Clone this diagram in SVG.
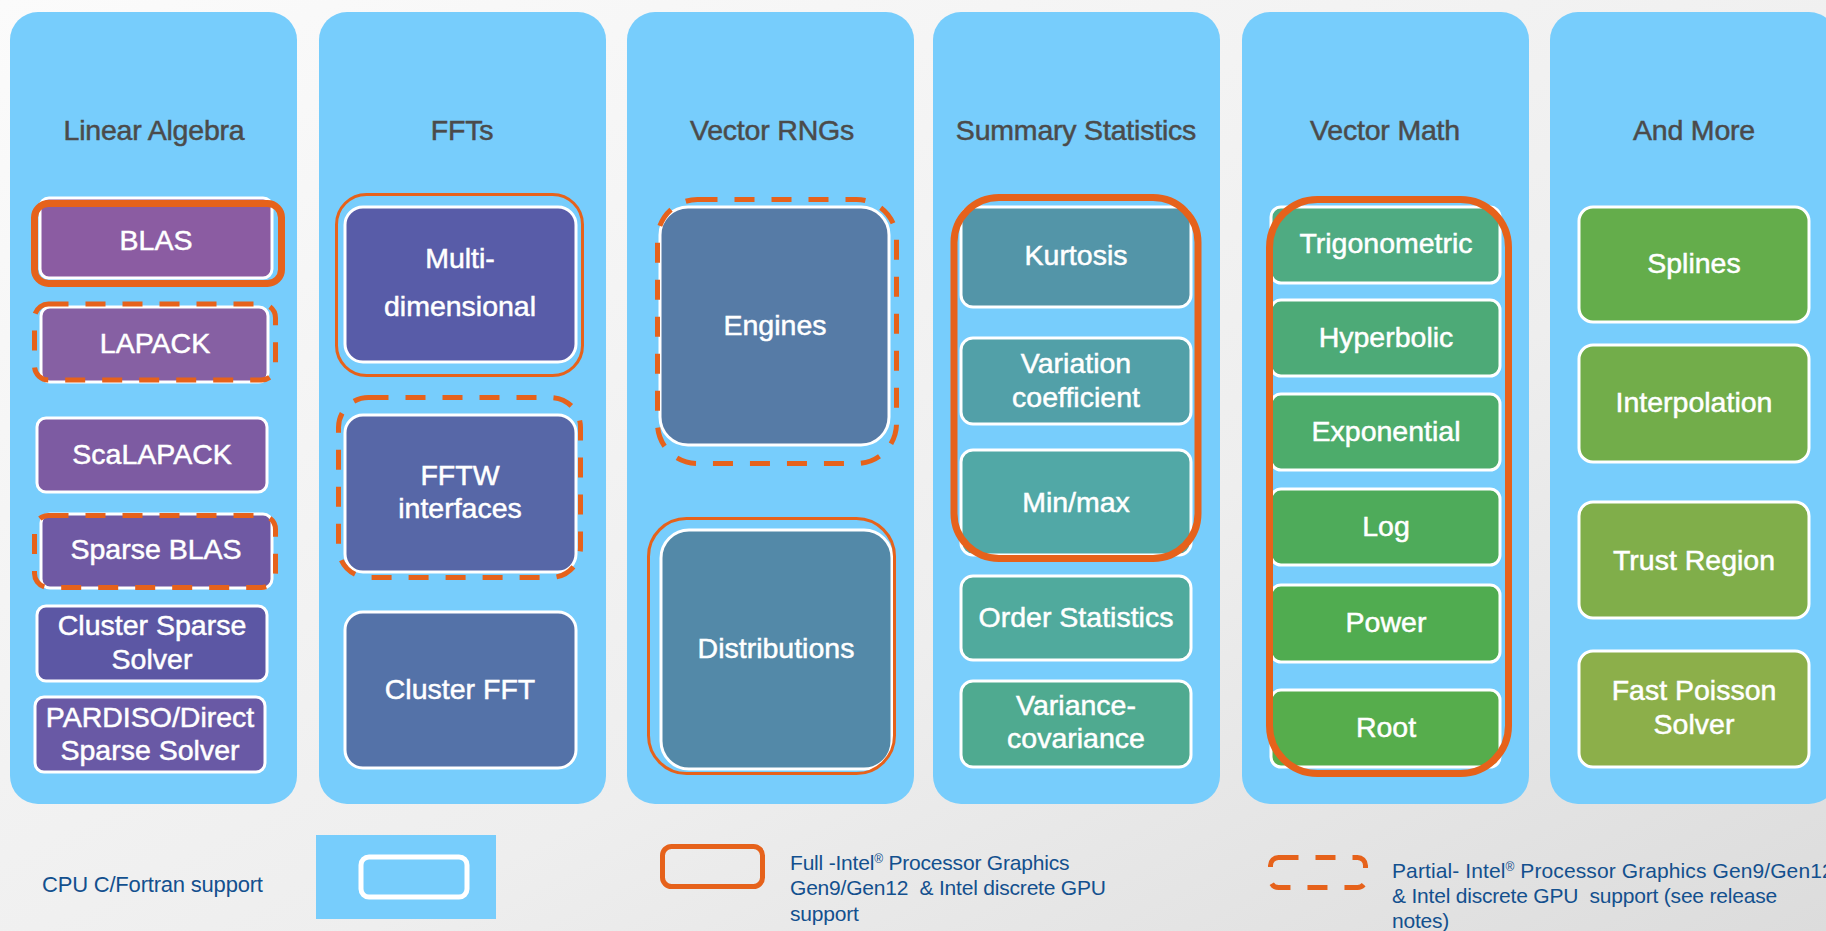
<svg xmlns="http://www.w3.org/2000/svg" width="1826" height="931" viewBox="0 0 1826 931">
  <defs>
    <linearGradient id="bg" x1="0" y1="0" x2="1" y2="1">
      <stop offset="0" stop-color="#fbfbfb"/>
      <stop offset="0.6" stop-color="#eeeeee"/>
      <stop offset="1" stop-color="#dcdcdc"/>
    </linearGradient>
  </defs>
  <style>
    .col { fill: #77cdfc; }
    .title { fill: #4b4b4b; stroke: #4b4b4b; stroke-width: 0.5px; font-family: "Liberation Sans", Arial, sans-serif; font-size: 28.5px; text-anchor: middle; letter-spacing: -0.2px; }
    .node rect { stroke: #ffffff; stroke-width: 3; }
    .node text { fill: #ffffff; stroke: #ffffff; stroke-width: 0.5px; font-family: "Liberation Sans", Arial, sans-serif; font-size: 28.5px; text-anchor: middle; letter-spacing: 0; }
    .full { fill: none; stroke: #e6621b; }
    .partial { fill: none; stroke: #e6621b; stroke-width: 5; stroke-dasharray: 20 17; }
    .legend { fill: #13508e; font-family: "Liberation Sans", Arial, sans-serif; font-size: 21px; white-space: pre; letter-spacing: -0.2px; }
    .sup { font-size: 12px; }
  </style>

  <!-- page background -->
  <rect width="1826" height="931" fill="url(#bg)"/>

  <!-- category columns -->
  <g id="columns">
    <g id="col-linear-algebra">
      <rect class="col" x="10" y="12" width="287" height="792" rx="28"/>
      <text class="title" x="154" y="140">Linear Algebra</text>
    </g>
    <g id="col-ffts">
      <rect class="col" x="319" y="12" width="287" height="792" rx="28"/>
      <text class="title" x="462" y="140">FFTs</text>
    </g>
    <g id="col-vector-rngs">
      <rect class="col" x="627" y="12" width="287" height="792" rx="28"/>
      <text class="title" x="772" y="140">Vector RNGs</text>
    </g>
    <g id="col-summary-statistics">
      <rect class="col" x="933" y="12" width="287" height="792" rx="28"/>
      <text class="title" x="1076" y="140">Summary Statistics</text>
    </g>
    <g id="col-vector-math">
      <rect class="col" x="1242" y="12" width="287" height="792" rx="28"/>
      <text class="title" x="1385" y="140">Vector Math</text>
    </g>
    <g id="col-and-more">
      <rect class="col" x="1550" y="12" width="287" height="792" rx="28"/>
      <text class="title" x="1694" y="140">And More</text>
    </g>
  </g>

  <!-- Linear Algebra -->
  <g id="blas" class="node">
    <rect x="40" y="198" width="232" height="80" rx="9" fill="#8b5ca2"/>
    <text x="156" y="250">BLAS</text>
  </g>
  <g id="lapack" class="node">
    <rect x="41" y="307" width="227" height="75" rx="9" fill="#8660a3"/>
    <text x="155" y="353">LAPACK</text>
  </g>
  <g id="scalapack" class="node">
    <rect x="37" y="418" width="230" height="74" rx="9" fill="#7d5ba2"/>
    <text x="152" y="464">ScaLAPACK</text>
  </g>
  <g id="sparse-blas" class="node">
    <rect x="41" y="514" width="231" height="74" rx="9" fill="#6f59a3"/>
    <text x="156" y="559">Sparse BLAS</text>
  </g>
  <g id="cluster-sparse-solver" class="node">
    <rect x="37" y="606" width="230" height="75" rx="9" fill="#5c57a4"/>
    <text x="152" y="635">Cluster Sparse</text>
    <text x="152" y="669">Solver</text>
  </g>
  <g id="pardiso" class="node">
    <rect x="35" y="697" width="230" height="75" rx="9" fill="#6959a5"/>
    <text x="150" y="727">PARDISO/Direct</text>
    <text x="150" y="760">Sparse Solver</text>
  </g>

  <!-- FFTs -->
  <g id="multi-dimensional" class="node">
    <rect x="345" y="207" width="231" height="155" rx="18" fill="#585ca8"/>
    <text x="460" y="268">Multi-</text>
    <text x="460" y="316">dimensional</text>
  </g>
  <g id="fftw-interfaces" class="node">
    <rect x="345" y="415" width="231" height="157" rx="18" fill="#5767a7"/>
    <text x="460" y="485">FFTW</text>
    <text x="460" y="518">interfaces</text>
  </g>
  <g id="cluster-fft" class="node">
    <rect x="345" y="612" width="231" height="156" rx="18" fill="#5472a8"/>
    <text x="460" y="699">Cluster FFT</text>
  </g>

  <!-- Vector RNGs -->
  <g id="engines" class="node">
    <rect x="660" y="207" width="229" height="238" rx="28" fill="#567ba6"/>
    <text x="775" y="335">Engines</text>
  </g>
  <g id="distributions" class="node">
    <rect x="661" y="530" width="231" height="239" rx="28" fill="#5389a8"/>
    <text x="776" y="658">Distributions</text>
  </g>

  <!-- Summary Statistics -->
  <g id="kurtosis" class="node">
    <rect x="961" y="207" width="230" height="100" rx="12" fill="#5395a8"/>
    <text x="1076" y="265">Kurtosis</text>
  </g>
  <g id="variation-coefficient" class="node">
    <rect x="961" y="338" width="230" height="86" rx="12" fill="#52a0a8"/>
    <text x="1076" y="373">Variation</text>
    <text x="1076" y="407">coefficient</text>
  </g>
  <g id="min-max" class="node">
    <rect x="961" y="450" width="230" height="105" rx="12" fill="#51a8a6"/>
    <text x="1076" y="512">Min/max</text>
  </g>
  <g id="order-statistics" class="node">
    <rect x="961" y="576" width="230" height="84" rx="12" fill="#50aa9d"/>
    <text x="1076" y="627">Order Statistics</text>
  </g>
  <g id="variance-covariance" class="node">
    <rect x="961" y="681" width="230" height="86" rx="12" fill="#4faa90"/>
    <text x="1076" y="715">Variance-</text>
    <text x="1076" y="748">covariance</text>
  </g>

  <!-- Vector Math -->
  <g id="trigonometric" class="node">
    <rect x="1271" y="207" width="229" height="76" rx="10" fill="#4fab82"/>
    <text x="1386" y="253">Trigonometric</text>
  </g>
  <g id="hyperbolic" class="node">
    <rect x="1271" y="300" width="229" height="76" rx="10" fill="#4daa77"/>
    <text x="1386" y="347">Hyperbolic</text>
  </g>
  <g id="exponential" class="node">
    <rect x="1271" y="394" width="229" height="76" rx="10" fill="#4dac6b"/>
    <text x="1386" y="441">Exponential</text>
  </g>
  <g id="log" class="node">
    <rect x="1271" y="489" width="229" height="76" rx="10" fill="#4eab5a"/>
    <text x="1386" y="536">Log</text>
  </g>
  <g id="power" class="node">
    <rect x="1271" y="585" width="229" height="77" rx="10" fill="#50ac50"/>
    <text x="1386" y="632">Power</text>
  </g>
  <g id="root" class="node">
    <rect x="1271" y="690" width="229" height="77" rx="10" fill="#56ad4c"/>
    <text x="1386" y="737">Root</text>
  </g>

  <!-- And More -->
  <g id="splines" class="node">
    <rect x="1579" y="207" width="230" height="115" rx="14" fill="#64ad4b"/>
    <text x="1694" y="273">Splines</text>
  </g>
  <g id="interpolation" class="node">
    <rect x="1579" y="345" width="230" height="117" rx="14" fill="#72ad4a"/>
    <text x="1694" y="412">Interpolation</text>
  </g>
  <g id="trust-region" class="node">
    <rect x="1579" y="502" width="230" height="116" rx="14" fill="#80ae4a"/>
    <text x="1694" y="570">Trust Region</text>
  </g>
  <g id="fast-poisson-solver" class="node">
    <rect x="1579" y="651" width="230" height="116" rx="14" fill="#8caf4a"/>
    <text x="1694" y="700">Fast Poisson</text>
    <text x="1694" y="734">Solver</text>
  </g>

  <!-- GPU support outlines (solid = full, dashed = partial) -->
  <g id="connectors">
    <rect class="full" x="34.5" y="203.5" width="247" height="80" rx="14" stroke-width="7"/>
    <rect class="partial" x="34.5" y="304" width="241" height="76" rx="14"/>
    <rect class="partial" x="34.5" y="515.5" width="241" height="72" rx="14"/>
    <rect class="full" x="336.5" y="194.5" width="246" height="181" rx="30" stroke-width="3"/>
    <rect class="partial" x="338.5" y="397.5" width="242" height="180" rx="30"/>
    <rect class="partial" x="657.5" y="199.5" width="239" height="264" rx="40"/>
    <rect class="full" x="648.5" y="518.5" width="246" height="255" rx="38" stroke-width="3"/>
    <rect class="full" x="954" y="197.5" width="244" height="361" rx="45" stroke-width="7"/>
    <rect class="full" x="1269.5" y="199.5" width="239" height="574" rx="48" stroke-width="7"/>
  </g>

  <!-- legend -->
  <g id="legend">
    <text class="legend" x="42" y="892" style="font-size:22px">CPU C/Fortran support</text>
    <rect x="316" y="835" width="180" height="84" fill="#77cdfc"/>
    <rect x="361" y="857" width="106" height="40" rx="8" fill="#77cdfc" stroke="#ffffff" stroke-width="5"/>

    <rect x="662.5" y="846.5" width="100" height="40" rx="9" fill="none" stroke="#e6621b" stroke-width="5"/>
    <text class="legend" x="790" y="870">Full -Intel<tspan class="sup" dy="-7">®</tspan><tspan dy="7"> Processor Graphics</tspan></text>
    <text class="legend" x="790" y="895">Gen9/Gen12  &amp; Intel discrete GPU</text>
    <text class="legend" x="790" y="921">support</text>

    <rect class="partial" x="1270.5" y="857.5" width="95" height="30" rx="8"/>
    <text class="legend" x="1392" y="878" style="letter-spacing:0.1px">Partial- Intel<tspan class="sup" dy="-7">®</tspan><tspan dy="7"> Processor Graphics Gen9/Gen12</tspan></text>
    <text class="legend" x="1392" y="903">&amp; Intel discrete GPU  support (see release</text>
    <text class="legend" x="1392" y="928">notes)</text>
  </g>
</svg>
